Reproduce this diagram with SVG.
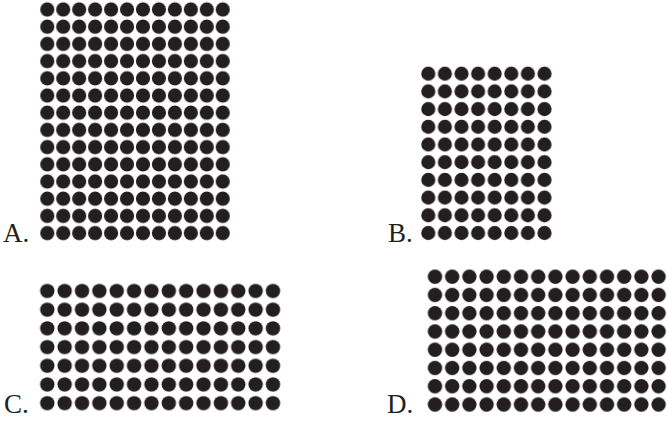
<svg xmlns="http://www.w3.org/2000/svg" width="667" height="421" viewBox="0 0 667 421">
<style>
.lbl{font-family:"Liberation Serif","Times New Roman",serif;font-size:27px;fill:#231f20}
.dot{fill:#231f20}
</style>
<defs>
<pattern id="pA" patternUnits="userSpaceOnUse" x="39.325" y="0.9" width="15.95" height="17.2"><circle class="dot" cx="7.975" cy="8.6" r="7.1"/></pattern>
<pattern id="pB" patternUnits="userSpaceOnUse" x="420" y="64.85" width="16.6" height="17.7"><circle class="dot" cx="8.3" cy="8.85" r="7.1"/></pattern>
<pattern id="pC" patternUnits="userSpaceOnUse" x="38.62" y="281.65" width="17.36" height="18.7"><circle class="dot" cx="8.68" cy="9.35" r="7.2"/></pattern>
<pattern id="pD" patternUnits="userSpaceOnUse" x="426.4" y="267.57" width="17.2" height="18.26"><circle class="dot" cx="8.6" cy="9.13" r="7.2"/></pattern>
</defs>
<rect width="667" height="421" fill="#ffffff"/>
<g id="A">
<rect x="39.325" y="0.9" width="191.4" height="240.8" fill="url(#pA)"/>
<text class="lbl" x="3" y="242">A.</text>
</g>
<g id="B">
<rect x="420" y="64.85" width="132.8" height="177" fill="url(#pB)"/>
<text class="lbl" x="388" y="242">B.</text>
</g>
<g id="C">
<rect x="38.62" y="281.65" width="243.04" height="130.9" fill="url(#pC)"/>
<text class="lbl" x="4" y="413">C.</text>
</g>
<g id="D">
<rect x="426.4" y="267.57" width="240.8" height="146.08" fill="url(#pD)"/>
<text class="lbl" x="387" y="413">D.</text>
</g>
</svg>
